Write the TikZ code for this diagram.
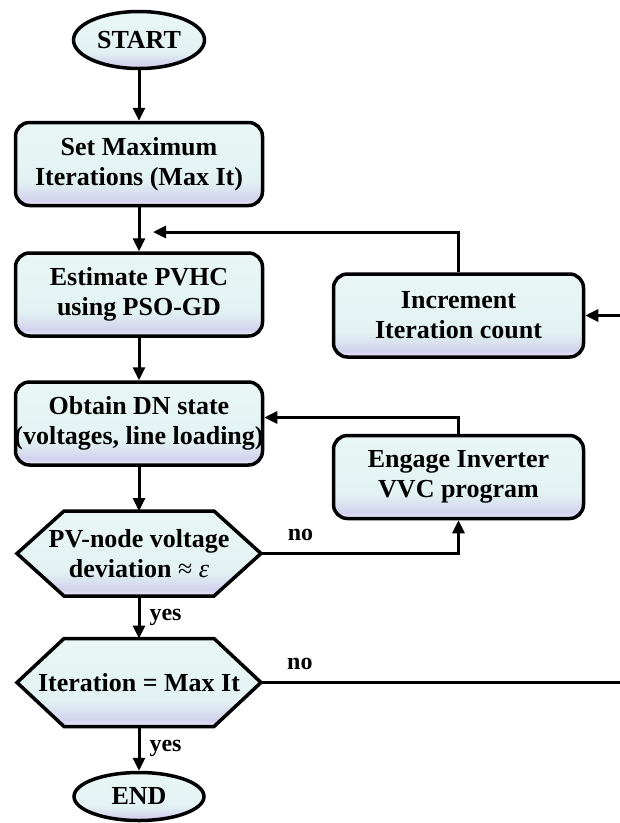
\documentclass[tikz,border=0pt]{standalone}
\usepackage{fontspec}
\setmainfont{Liberation Serif}
\usetikzlibrary{arrows.meta,calc,shapes.geometric,backgrounds}

% fill colours of the flowchart symbols
\definecolor{fillTop}{RGB}{234,246,246}
\definecolor{fillMid}{RGB}{226,242,242}
\definecolor{fillLav}{RGB}{211,209,238}
\definecolor{fillLow}{RGB}{236,235,248}
% vertical gradient: light cyan body with a lavender band near the bottom
\pgfdeclareverticalshading{flowfill}{100bp}{color(0bp)=(fillLow); color(25bp)=(fillLow); color(29bp)=(fillLav); color(34bp)=(fillLav!50!fillMid); color(40bp)=(fillMid); color(75bp)=(fillTop); color(100bp)=(fillTop)}

\begin{document}
\begin{tikzpicture}[x=1pt,y=-1pt,
  font=\fontsize{26}{30}\selectfont\bfseries,
  shp/.style={draw=black, line width=3.5pt, shading=flowfill, align=center, inner sep=0pt},
  procbox/.style={shp, rectangle, rounded corners=14pt, minimum width=247pt, minimum height=83pt},
  term/.style={shp, ellipse},
  dectext/.style={inner sep=0pt, align=center},
  flow/.style={line width=3pt, -{Triangle[length=13pt,width=12pt]}},
  lbl/.style={font=\fontsize{24}{28}\selectfont\bfseries, inner sep=0pt}]

\useasboundingbox (0,0) rectangle (620,823);
\clip (0,0) rectangle (620,823);

% terminals and process boxes
\node[term, minimum width=131pt, minimum height=57pt] (start) at (139,40) {START};
\node[procbox] (setmax) at (139,164) {Set Maximum\\Iterations (Max It)};
\node[procbox] (est) at (139,294.5) {Estimate PVHC\\using PSO-GD};
\node[procbox] (obt) at (139,423.5) {Obtain DN state\\\makebox[220pt]{(voltages, line loading)}};
\node[procbox, minimum width=250pt] (inc) at (458.5,315.5) {Increment\\Iteration count};
\node[procbox, minimum width=250pt] (eng) at (458.5,477) {Engage Inverter\\VVC program};

% decisions: texts, with hexagon outlines drawn behind them
\node[dectext] (dv) at (139,553.5) {PV-node voltage\\deviation {\mdseries ≈} {\mdseries\itshape ε}};
\node[dectext] (it) at (139,682.5) {Iteration = Max It};
\begin{pgfonlayer}{background}
  \path[shp] ($(dv.center)+(-75,-42.5)$) -- ($(dv.center)+(75,-42.5)$) -- ($(dv.center)+(122,0)$) coordinate (dvR)
    -- ($(dv.center)+(75,42.5)$) -- ($(dv.center)+(-75,42.5)$) -- ($(dv.center)+(-122,0)$) -- cycle;
  \path[shp] ($(it.center)+(-75,-44)$) -- ($(it.center)+(75,-44)$) -- ($(it.center)+(122,0)$) coordinate (itR)
    -- ($(it.center)+(75,44)$) -- ($(it.center)+(-75,44)$) -- ($(it.center)+(-122,0)$) -- cycle;
\end{pgfonlayer}
\coordinate (dvB) at ($(dv.center)+(0,42.5)$);
\coordinate (dvT) at ($(dv.center)+(0,-42.5)$);
\coordinate (itB) at ($(it.center)+(0,44)$);
\coordinate (itT) at ($(it.center)+(0,-44)$);

\node[term, minimum width=130pt, minimum height=48pt] (end) at (139,796.5) {END};

% main flow
\draw[flow] (start) -- (setmax);
\draw[flow] (setmax) -- (est);
\draw[flow] (est) -- (obt);
\draw[flow] (obt) -- (dvT);
\draw[flow] (dvB) -- node[lbl, right=9pt] {yes} (itT);
\draw[flow] (itB) -- node[lbl, right=9pt] {yes} (end);

% voltage deviation loop
\draw[flow] (dvR) -| node[lbl, pos=0.1, above=11pt] {no} (eng.south);
\draw[flow] (eng.north) |- ($(obt.east)+(0,-6)$);

% iteration loop
\coordinate (rail) at (624,0);
\coordinate (merge) at (153,232);
\draw[flow] (itR) -- node[lbl, pos=0.107, above=11pt] {no} (itR -| rail) |- (inc.east);
\draw[flow] (inc.north) |- (merge);
\end{tikzpicture}
\end{document}
